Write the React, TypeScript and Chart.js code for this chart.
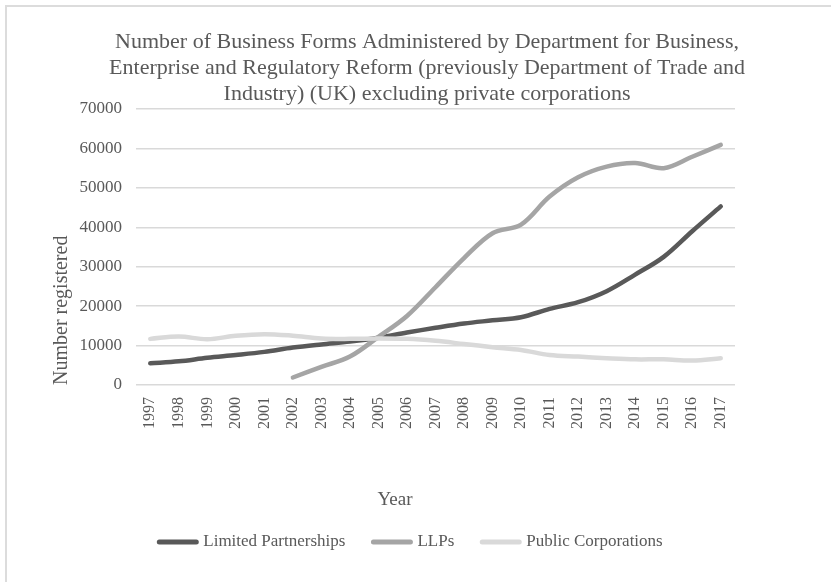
import React, { useEffect, useRef } from 'react';
import { Chart, registerables } from 'chart.js';

Chart.register(...registerables);

const years = ['1997', '1998', '1999', '2000', '2001', '2002', '2003', '2004', '2005', '2006', '2007', '2008', '2009', '2010', '2011', '2012', '2013', '2014', '2015', '2016', '2017'];
const limitedPartnerships = [5500, 6000, 6900, 7600, 8400, 9500, 10300, 11000, 12000, 13300, 14500, 15600, 16400, 17200, 19300, 21000, 23800, 28000, 32500, 39000, 45300];
const llps = [null, null, null, null, null, 1900, 4600, 7200, 12200, 17500, 24800, 32200, 38500, 40700, 47800, 52700, 55400, 56300, 55000, 57900, 60900];
const publicCorporations = [11700, 12300, 11600, 12500, 12900, 12500, 11800, 11700, 11800, 11700, 11200, 10400, 9600, 8900, 7600, 7200, 6800, 6500, 6500, 6200, 6800];
const seriesNames = ['Limited Partnerships', 'LLPs', 'Public Corporations'];
const seriesColors = ['#595959', '#a5a5a5', '#d9d9d9'];
const titleLines = [
  'Number of Business Forms Administered by Department for Business,',
  'Enterprise and Regulatory Reform (previously Department of Trade and',
  'Industry) (UK) excluding private corporations',
];
const xAxisTitle = 'Year';
const yAxisTitle = 'Number registered';
const yMin = 0;
const yMax = 70000;
const yStep = 10000;

const FONT = "'Liberation Serif', 'Times New Roman', serif";
const TEXT = '#595959';
const GRID = '#d9d9d9';

const decorPlugin = {
  id: 'decor',
  beforeDraw(chart: any) {
    const ctx = chart.ctx;
    ctx.save();
    ctx.fillStyle = '#dcdcdc';
    ctx.fillRect(5, 5, chart.width - 5, 2);
    ctx.fillRect(5, 5, 2, chart.height - 5);
    ctx.restore();
  },
  afterDraw(chart: any, _args: any, opts: any) {
    const ctx = chart.ctx;
    ctx.save();
    ctx.fillStyle = TEXT;
    ctx.textBaseline = 'middle';
    ctx.textAlign = 'center';
    ctx.font = `19px ${FONT}`;
    ctx.fillText(xAxisTitle, opts.yearX, opts.yearY);

    ctx.font = `17px ${FONT}`;
    const lineW = 41;
    const gapText = 5;
    const gapItem = 26;
    const items = chart.data.datasets.map((ds: any) => ({
      label: ds.label,
      color: ds.borderColor,
      w: ctx.measureText(ds.label).width,
    }));
    const total = items.reduce((s: number, it: any) => s + lineW + gapText + it.w, 0) + gapItem * (items.length - 1);
    let x = opts.legendCenter - total / 2;
    const y = opts.legendY;
    ctx.textAlign = 'left';
    items.forEach((it: any) => {
      ctx.strokeStyle = it.color;
      ctx.lineWidth = 5;
      ctx.lineCap = 'round';
      ctx.beginPath();
      ctx.moveTo(x + 2, y);
      ctx.lineTo(x + lineW - 2, y);
      ctx.stroke();
      x += lineW + gapText;
      ctx.fillText(it.label, x, y);
      x += it.w + gapItem;
    });
    ctx.restore();
  },
};

export default function App() {
  const ref = useRef<HTMLCanvasElement | null>(null);

  useEffect(() => {
    if (!ref.current) return;
    const series = [limitedPartnerships, llps, publicCorporations];
    const chart = new Chart(ref.current, {
      type: 'line',
      data: {
        labels: years,
        datasets: series.map((data, i) => ({
          label: seriesNames[i],
          data,
          borderColor: seriesColors[i],
          backgroundColor: seriesColors[i],
          borderWidth: 4.5,
          pointRadius: 0,
          pointHoverRadius: 0,
          tension: 0.35,
          fill: false,
          borderCapStyle: 'round',
          borderJoinStyle: 'round',
          order: 3 - i,
        })),
      },
      plugins: [decorPlugin],
      options: {
        responsive: false,
        animation: false,
        layout: { padding: { left: 23, right: 0, top: 0, bottom: 0 } },
        scales: {
          x: {
            offset: true,
            grid: { display: false, drawTicks: false },
            border: { display: false },
            ticks: {
              color: TEXT,
              font: { family: FONT, size: 16 },
              minRotation: 90,
              maxRotation: 90,
              padding: 12,
              autoSkip: false,
            },
            afterFit(s: any) {
              s.height = 197;
            },
          },
          y: {
            min: yMin,
            max: yMax,
            grid: { color: GRID, lineWidth: 1.5, drawTicks: false },
            border: { display: false },
            ticks: {
              stepSize: yStep,
              color: TEXT,
              font: { family: FONT, size: 17 },
              padding: 14,
              callback: (v: any) => String(v),
            },
            title: {
              display: true,
              text: yAxisTitle,
              align: 'start',
              color: TEXT,
              font: { family: FONT, size: 20 },
              padding: { top: 27, bottom: 0 },
            },
            afterFit(s: any) {
              s.width = 113;
            },
          },
          yRight: {
            type: 'linear',
            axis: 'y',
            position: 'right',
            display: true,
            grid: { display: false, drawTicks: false },
            border: { display: false },
            ticks: { display: false },
            afterFit(s: any) {
              s.width = 96;
            },
          },
        },
        plugins: {
          legend: { display: false },
          tooltip: { enabled: false },
          title: {
            display: true,
            text: titleLines,
            color: TEXT,
            font: { family: FONT, size: 22, weight: 'normal', lineHeight: 26 / 22 },
            padding: { top: 29, bottom: 2 },
          },
          decor: { yearX: 395, yearY: 500, legendCenter: 410, legendY: 542 },
        } as any,
      },
    } as any);
    return () => chart.destroy();
  }, []);

  return (
    <div style={{ position: 'fixed', left: 0, top: 0, width: 831, height: 582, background: '#fff' }}>
      <canvas ref={ref} width={831} height={582} style={{ display: 'block' }} />
    </div>
  );
}
